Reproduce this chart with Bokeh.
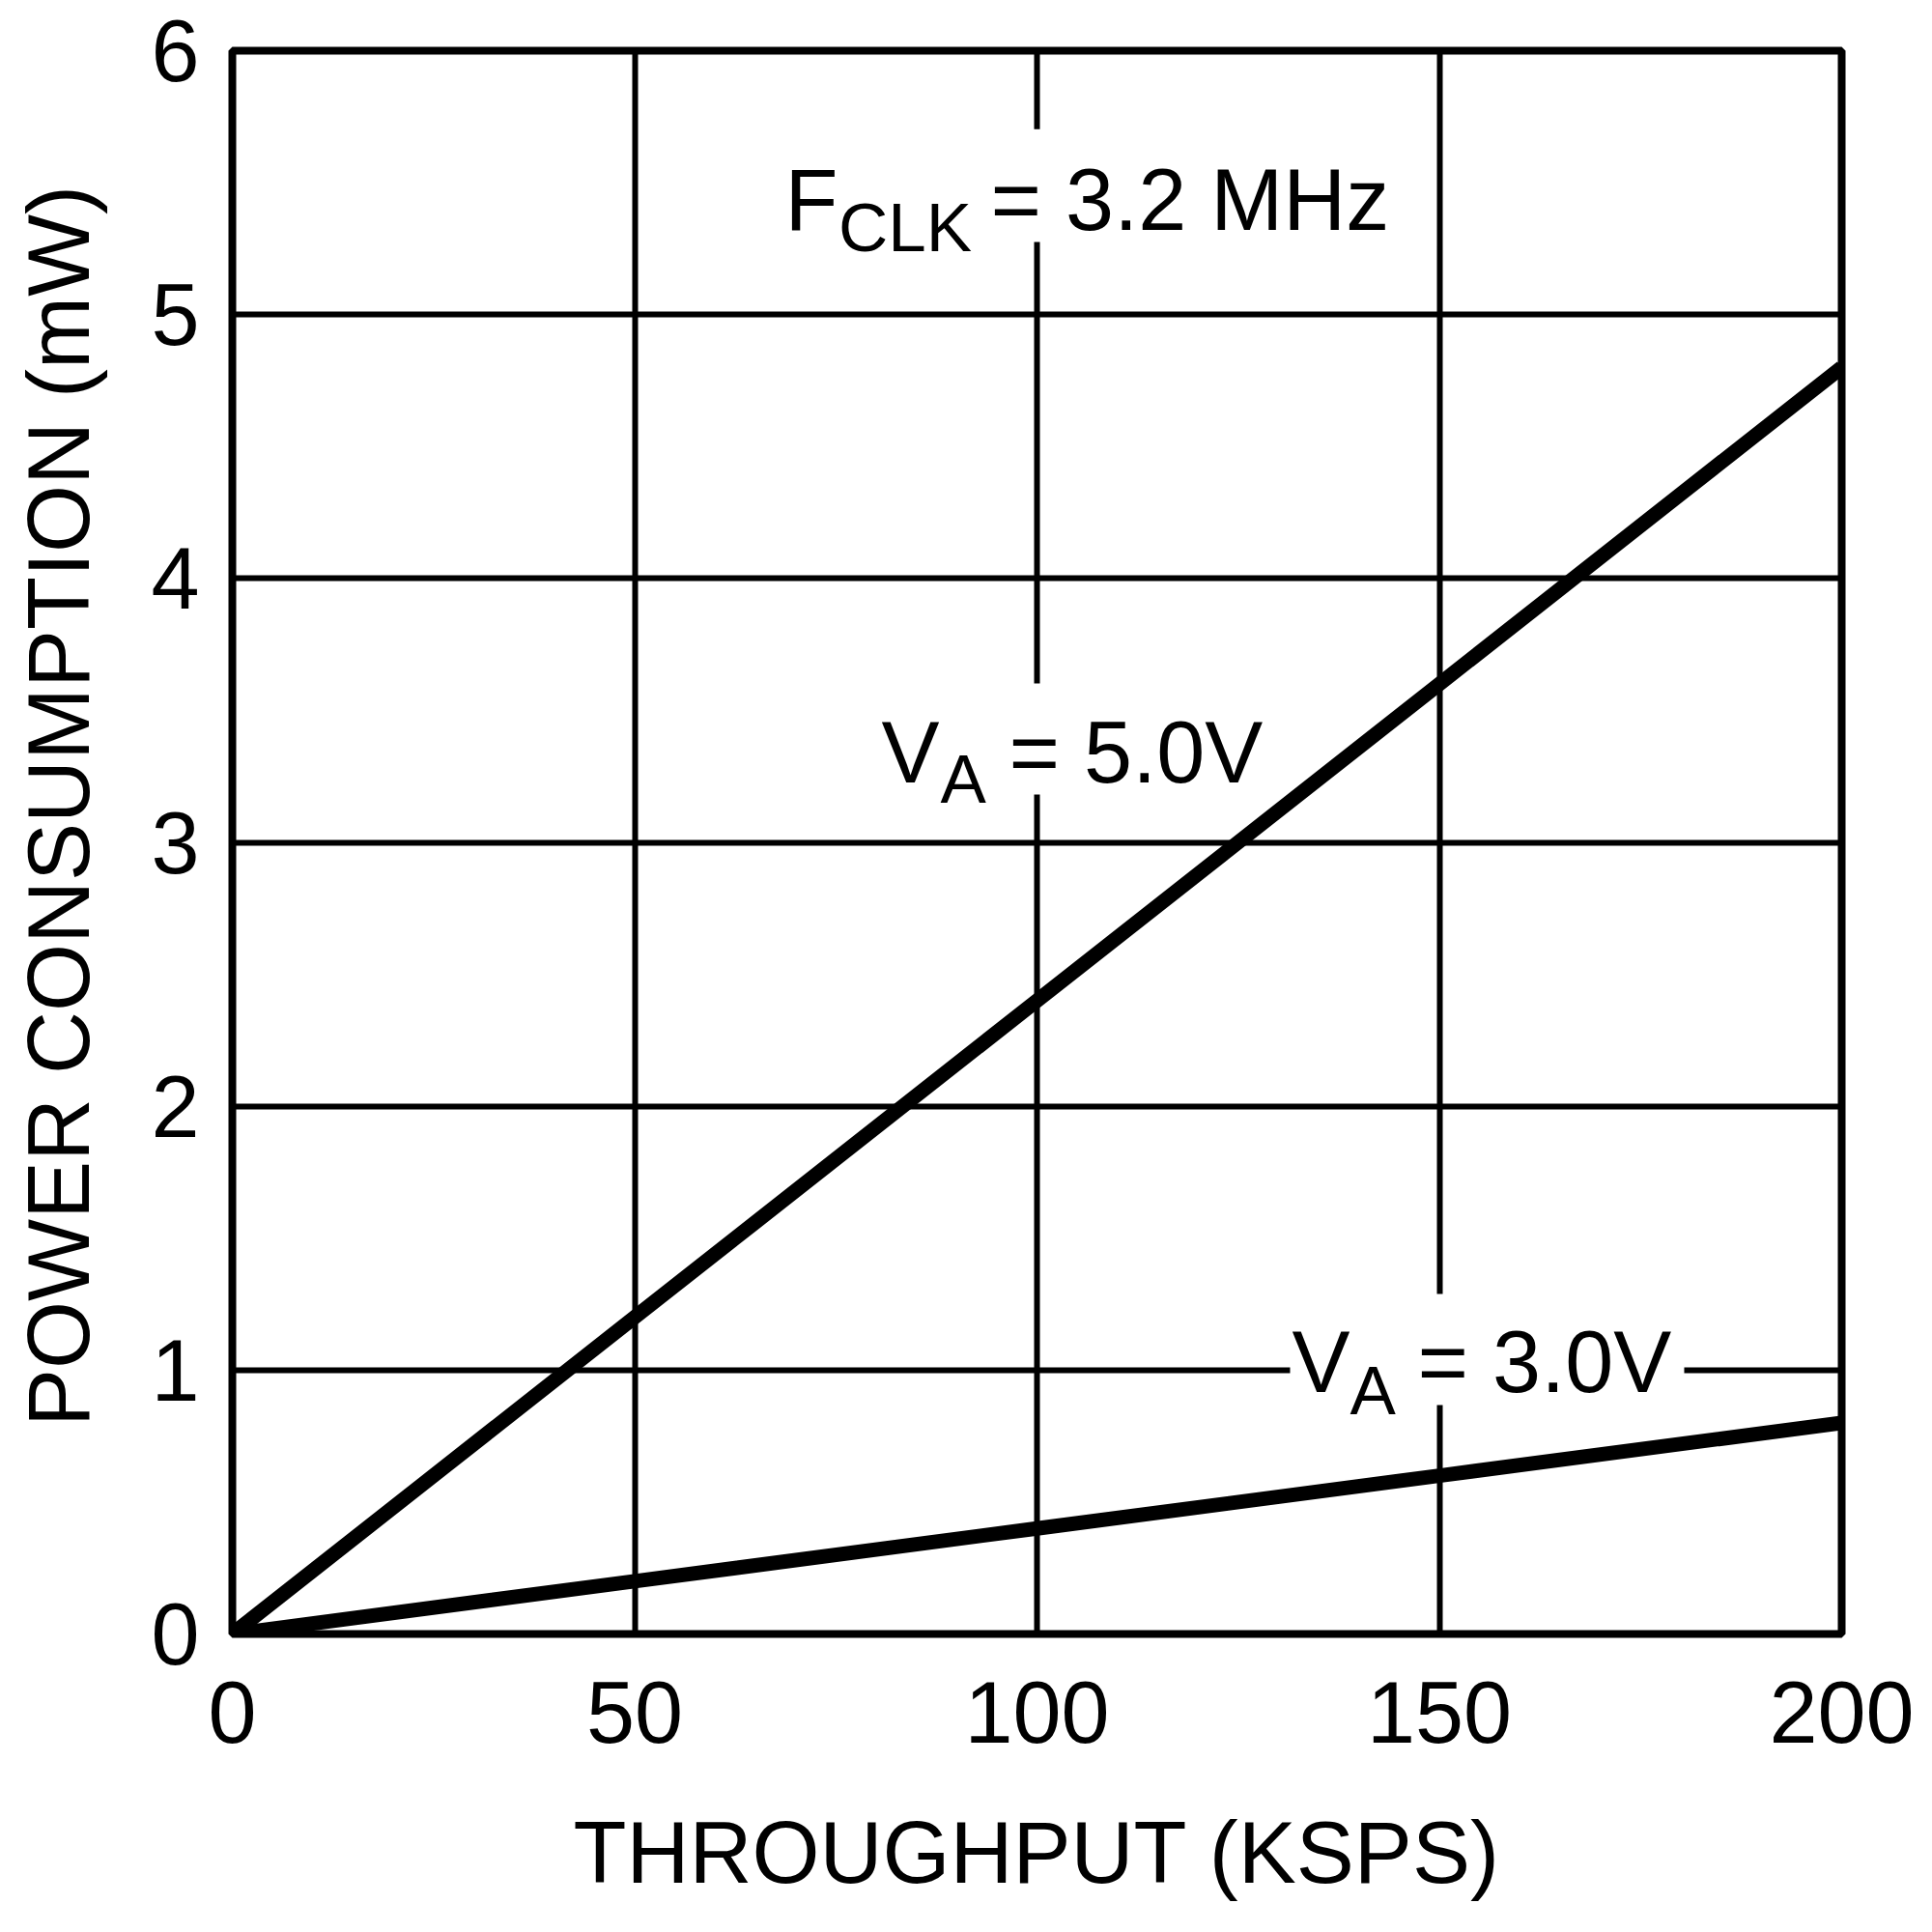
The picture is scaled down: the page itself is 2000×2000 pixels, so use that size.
from bokeh.plotting import figure
from bokeh.models import Range1d, FixedTicker
from bokeh.core.properties import value
from bokeh.embed import file_html
from bokeh.resources import INLINE

# ---- data ----
throughput_ksps = [0, 50, 100, 150, 200]
power_5v0 = [0.0, 1.2, 2.4, 3.6, 4.8]
power_3v0 = [0.0, 0.2, 0.4, 0.6, 0.8]
x_ticks = [0, 50, 100, 150, 200]
y_ticks = [0, 1, 2, 3, 4, 5, 6]
x_title = "THROUGHPUT (KSPS)"
# leading no-break spaces nudge the centred label upward, as in the reference
y_title = "\u00a0\u00a0\u00a0POWER CONSUMPTION (mW)"

# ---- annotation texts (main symbol, subscript, rest) ----
ann_main_text = ["F", "V", "V"]
ann_sub_text = ["CLK", "A", "A"]
ann_rest_text = ["= 3.2 MHz", "= 5.0V", "= 3.0V"]
ann_main_x = [68.67, 80.67, 131.69]
ann_main_y = [5.436, 3.342, 1.029]
ann_sub_x = [75.33, 88.0, 138.9]
ann_sub_y = [5.330, 3.240, 0.922]
ann_rest_x = [94.24, 96.52, 147.3]
# white mask boxes behind annotation texts
box_left = [68.43, 79.83, 131.45]
box_right = [145.26, 129.4, 180.43]
box_top = [5.703, 3.602, 1.289]
box_bottom = [5.275, 3.181, 0.868]

FONT = "Liberation Sans"

p = figure(
    frame_width=1666, frame_height=1639,
    min_border_left=240, min_border_top=52, min_border_right=86, min_border_bottom=301,
    x_range=Range1d(0, 200), y_range=Range1d(0, 6),
    output_backend="svg", toolbar_location=None,
    background_fill_color="white", border_fill_color="white",
)

p.outline_line_color = "black"
p.outline_line_width = 8

for ax, ticks in ((p.xaxis[0], x_ticks), (p.yaxis[0], y_ticks)):
    ax.ticker = FixedTicker(ticks=ticks)
    ax.axis_line_color = None
    ax.major_tick_line_color = None
    ax.minor_tick_line_color = None
    ax.major_tick_out = 0
    ax.major_tick_in = 0
    ax.minor_tick_out = 0
    ax.major_label_text_font = FONT
    ax.major_label_text_font_size = "90px"
    ax.major_label_text_color = "black"
    ax.axis_label_text_font = FONT
    ax.axis_label_text_font_size = "90px"
    ax.axis_label_text_font_style = "normal"
    ax.axis_label_text_color = "black"

p.xaxis.axis_label = x_title
p.yaxis.axis_label = y_title
p.xaxis.major_label_standoff = 49
p.xaxis.axis_label_standoff = 61
p.yaxis.major_label_standoff = 34
p.yaxis.axis_label_standoff = 42

for g, ticks in ((p.xgrid[0], x_ticks), (p.ygrid[0], y_ticks)):
    g.ticker = FixedTicker(ticks=ticks)
    g.grid_line_color = "black"
    g.grid_line_width = 6
    g.grid_line_alpha = 1.0

# white masks behind annotations (cover grid lines)
p.quad(left=box_left, right=box_right, top=box_top, bottom=box_bottom,
       fill_color="white", line_color=None)

# data lines
p.line(throughput_ksps, power_5v0, line_color="black", line_width=15)
p.line(throughput_ksps, power_3v0, line_color="black", line_width=15)

# annotation texts
p.text(x=ann_main_x, y=ann_main_y, text=ann_main_text,
       text_font=value(FONT), text_font_size=value("90px"),
       text_baseline="alphabetic", text_align="left", text_color="black")
p.text(x=ann_sub_x, y=ann_sub_y, text=ann_sub_text,
       text_font=value(FONT), text_font_size=value("71px"),
       text_baseline="alphabetic", text_align="left", text_color="black")
p.text(x=ann_rest_x, y=ann_main_y, text=ann_rest_text,
       text_font=value(FONT), text_font_size=value("90px"),
       text_baseline="alphabetic", text_align="left", text_color="black")

open("out.html", "w").write(file_html(p, INLINE))
